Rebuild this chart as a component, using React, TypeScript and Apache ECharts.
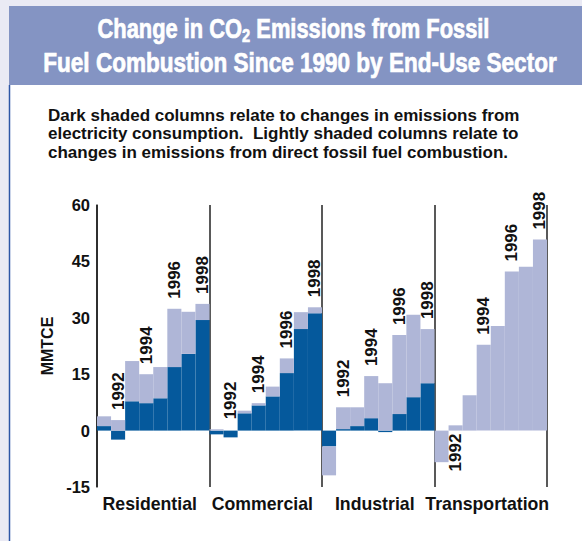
import React, { useEffect, useRef } from "react";
import * as echarts from "echarts";

const sectors = ["Residential", "Commercial", "Industrial", "Transportation"];
const years = ["1991", "1992", "1993", "1994", "1995", "1996", "1997", "1998"];
const labeledYears = ["1992", "1994", "1996", "1998"];
const yTicks = { min: -15, max: 60, interval: 15 };

// Dark: change in emissions from electricity consumption (MMTCE)
const elecResidential = [1.2, -2.4, 7.8, 7.3, 8.6, 16.9, 20.4, 29.4];
const elecCommercial = [-1.0, -1.8, 4.6, 6.7, 9.1, 15.3, 27.0, 31.2];
const elecIndustrial = [-4.2, 0.4, 1.2, 3.3, -0.4, 4.4, 8.9, 12.6];
const elecTransportation = [0, 0, 0, 0, 0, 0, 0, 0];

// Light: change in emissions from direct fossil fuel combustion (MMTCE)
const directResidential = [2.6, 2.8, 10.7, 7.7, 8.3, 15.5, 11.2, 4.3];
const directCommercial = [0.35, 0, 0.7, 0.6, 2.6, 3.9, 4.5, 1.6];
const directIndustrial = [-7.7, 5.8, 5.0, 11.2, 12.6, 21.0, 21.9, 14.4];
const directTransportation = [-8.4, 1.4, 9.4, 22.8, 27.8, 42.3, 43.6, 50.8];

const DARK = "#05599C";
const LIGHT = "#AFB6D7";
const FONT = '"Liberation Sans", Arial, Helvetica, sans-serif';

export default function App() {
  const ref = useRef<HTMLDivElement>(null);

  useEffect(() => {
    if (!ref.current) return;
    const chart = echarts.init(ref.current, undefined, { renderer: "svg" });

    const elec = [elecResidential, elecCommercial, elecIndustrial, elecTransportation];
    const direct = [directResidential, directCommercial, directIndustrial, directTransportation];
    const cats: string[] = [];
    const darkData: any[] = [];
    const lightData: any[] = [];
    sectors.forEach((s, si) => {
      years.forEach((y, yi) => {
        cats.push(s + " " + y);
        darkData.push(elec[si][yi]);
        const v = direct[si][yi];
        const item: any = { value: v, year: y };
        if (labeledYears.includes(y)) {
          if (s === "Transportation" && y === "1992") {
            item.label = { show: true, position: "bottom", align: "right", distance: 3 };
          } else if (v === 0) {
            item.label = { show: true, position: "top", align: "left", distance: 18 };
          } else {
            item.label = { show: true };
          }
        }
        lightData.push(item);
      });
    });

    const labelStyle = {
      fontFamily: FONT,
      fontWeight: "bold",
      fontSize: 16,
      color: "#111",
    };

    const titleFont = { fontFamily: FONT, fontWeight: "bold", fill: "#fff", stroke: "#fff", lineWidth: 0.7 };

    chart.setOption({
      animation: false,
      backgroundColor: "#EAEAF4",
      graphic: [
        { type: "rect", z: -10, shape: { x: 9, y: 6, width: 573, height: 79 }, style: { fill: "#8494C3" } },
        { type: "rect", z: -10, shape: { x: 9, y: 85, width: 573, height: 456 }, style: { fill: "#FFFFFF" } },
        { type: "line", z: -9, shape: { x1: 9.5, y1: 85, x2: 9.5, y2: 541 }, style: { stroke: "#2D56A6", lineWidth: 1.5 } },
        {
          type: "text",
          z: 10,
          x: 293.5,
          y: 14,
          scaleX: 0.81,
          style: {
            text: "{a|Change in CO}{s|2}{a| Emissions from Fossil}",
            textAlign: "center",
            fill: "#fff",
            rich: {
              a: { ...titleFont, fontSize: 27, lineHeight: 30 },
              s: { ...titleFont, fontSize: 18, lineHeight: 4, verticalAlign: "bottom" },
            },
          },
        },
        {
          type: "text",
          z: 10,
          x: 300,
          y: 62,
          scaleX: 0.835,
          style: {
            text: "Fuel Combustion Since 1990 by End-Use Sector",
            textAlign: "center",
            textVerticalAlign: "middle",
            ...titleFont,
            fontSize: 27,
          },
        },
        {
          type: "text",
          z: 10,
          x: 48,
          y: 106,
          style: {
            text:
              "Dark shaded columns relate to changes in emissions from\nelectricity consumption.  Lightly shaded columns relate to\nchanges in emissions from direct fossil fuel combustion.",
            fill: "#111",
            fontFamily: FONT,
            fontWeight: "bold",
            fontSize: 17,
            lineHeight: 18.5,
          },
        },
      ],
      grid: { left: 97, right: 35, top: 205, bottom: 54, containLabel: false },
      xAxis: [
        {
          type: "category",
          data: cats,
          position: "bottom",
          show: false,
        },
        {
          type: "category",
          data: sectors,
          position: "bottom",
          axisLine: { show: false },
          axisTick: { show: false },
          axisLabel: { ...labelStyle, fontSize: 17.7, margin: 8, interval: 0, padding: [0, 7, 0, 0] },
          splitLine: { show: true, interval: 0, lineStyle: { color: "#222", width: 1.5 } },
        },
      ],
      yAxis: {
        type: "value",
        min: yTicks.min,
        max: yTicks.max,
        interval: yTicks.interval,
        name: "MMTCE",
        nameLocation: "middle",
        nameRotate: 90,
        nameGap: 42,
        nameTextStyle: { ...labelStyle, fontSize: 16 },
        axisLine: { show: true, lineStyle: { color: "#222", width: 1.5 } },
        axisTick: { show: false },
        splitLine: { show: false },
        axisLabel: { ...labelStyle, fontSize: 16.5, margin: 7 },
      },
      series: [
        {
          type: "bar",
          name: "Electricity",
          xAxisIndex: 0,
          stack: "total",
          barCategoryGap: "0%",
          barWidth: "100%",
          itemStyle: { color: DARK },
          data: darkData,
        },
        {
          type: "bar",
          name: "Direct",
          xAxisIndex: 0,
          stack: "total",
          barCategoryGap: "0%",
          barWidth: "100%",
          itemStyle: { color: LIGHT },
          label: {
            show: false,
            position: "top",
            rotate: 90,
            align: "left",
            verticalAlign: "middle",
            distance: 10,
            formatter: (p: any) => p.data.year,
            ...labelStyle,
            fontSize: 17,
          },
          data: lightData,
        },
      ],
    });

    return () => chart.dispose();
  }, []);

  return (
    <div
      ref={ref}
      style={{ position: "absolute", left: 0, top: 0, width: 582, height: 541 }}
    />
  );
}
